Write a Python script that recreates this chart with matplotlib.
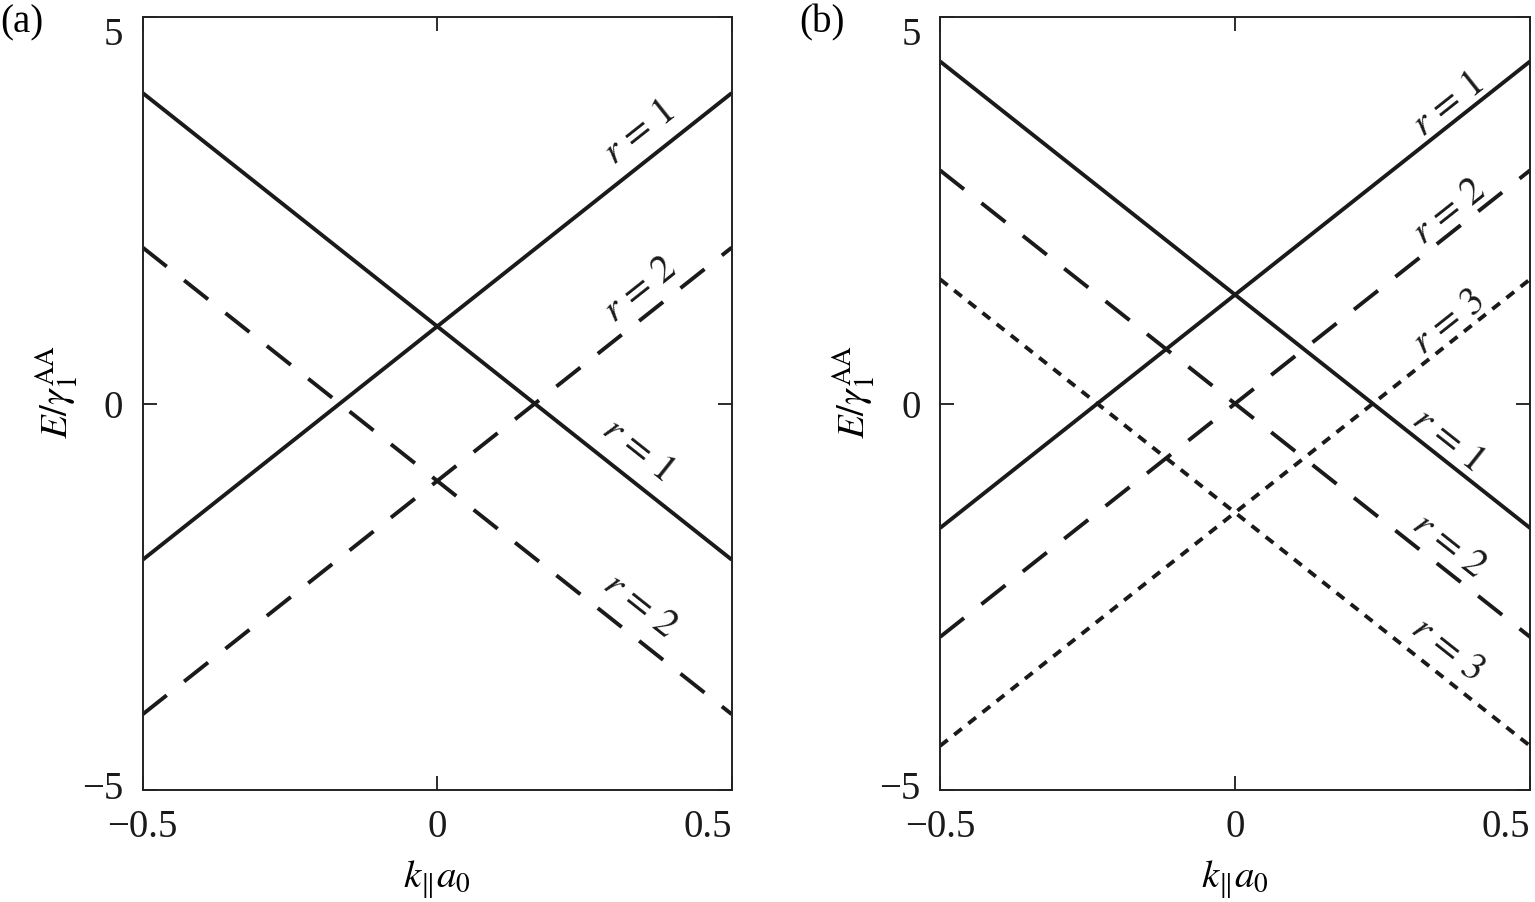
import numpy as np
import matplotlib
matplotlib.use("Agg")
import matplotlib.pyplot as plt

plt.rcParams['font.family'] = ['Liberation Serif', 'DejaVu Serif']
plt.rcParams['mathtext.fontset'] = 'stix'
plt.rcParams['lines.scale_dashes'] = False

# k range (end points of each straight band)
k = [-0.5, 0.5]

# panel (a): two layers, bands centred at +1 and -1
Ea_r1_up = [-2.02, 4.02]
Ea_r1_dn = [4.02, -2.02]
Ea_r2_up = [-4.02, 2.02]
Ea_r2_dn = [2.02, -4.02]

# panel (b): three layers, bands centred at +1.41, 0, -1.41
Eb_r1_up = [-1.61, 4.43]
Eb_r1_dn = [4.43, -1.61]
Eb_r2_up = [-3.02, 3.02]
Eb_r2_dn = [3.02, -3.02]
Eb_r3_up = [-4.43, 1.61]
Eb_r3_dn = [1.61, -4.43]

# band labels: (k, E, text, angle)
labels_a = [(0.343, 3.50, r'$r\,=\,1$', 38.4), (0.345, 1.47, r'$r\,=\,2$', 38.4),
            (0.340, -0.60, r'$r\,=\,1$', -38.4), (0.343, -2.61, r'$r\,=\,2$', -38.4)]
labels_b = [(0.361, 3.86, r'$r\,=\,1$', 38.4), (0.363, 2.48, r'$r\,=\,2$', 38.4),
            (0.361, 1.05, r'$r\,=\,3$', 38.4), (0.360, -0.47, r'$r\,=\,1$', -38.4),
            (0.362, -1.84, r'$r\,=\,2$', -38.4), (0.360, -3.17, r'$r\,=\,3$', -38.4)]

xticks = [-0.5, 0, 0.5]
xticklabels = ['\u22120.5', '0', '0.5']
yticks = [-5, 0, 5]
yticklabels = ['\u22125', '0', '5']

fs = 28
lw = 2.8
dash = (0, (22, 16))
dot = (0, (7, 6))
col = '#1a1a1a'

fig = plt.figure(figsize=(15.35, 9.02), dpi=100)
ax1 = fig.add_axes([0.093, 0.1242, 0.3837, 0.8566])
ax2 = fig.add_axes([0.6124, 0.1242, 0.3844, 0.8566])

ax1.plot(k, Ea_r1_up, color=col, lw=lw, solid_capstyle='butt')
ax1.plot(k, Ea_r1_dn, color=col, lw=lw, solid_capstyle='butt')
ax1.plot(k, Ea_r2_up, color=col, lw=lw, linestyle=dash, dash_capstyle='butt')
ax1.plot(k, Ea_r2_dn, color=col, lw=lw, linestyle=dash, dash_capstyle='butt')

ax2.plot(k, Eb_r1_up, color=col, lw=lw, solid_capstyle='butt')
ax2.plot(k, Eb_r1_dn, color=col, lw=lw, solid_capstyle='butt')
ax2.plot(k, Eb_r2_up, color=col, lw=lw, linestyle=dash, dash_capstyle='butt')
ax2.plot(k, Eb_r2_dn, color=col, lw=lw, linestyle=dash, dash_capstyle='butt')
ax2.plot(k, Eb_r3_up, color=col, lw=lw, linestyle=dot, dash_capstyle='butt')
ax2.plot(k, Eb_r3_dn, color=col, lw=lw, linestyle=dot, dash_capstyle='butt')

for ax, labs in [(ax1, labels_a), (ax2, labels_b)]:
    for x, y, t, ang in labs:
        ax.text(x, y, t, fontsize=fs, rotation=ang, rotation_mode='anchor',
                ha='center', va='center', color=col)

    ax.set_xlim(-0.5, 0.5)
    ax.set_ylim(-5, 5)
    ax.set_xticks(xticks)
    ax.set_xticklabels(xticklabels)
    ax.set_yticks(yticks)
    ax.set_yticklabels(yticklabels)
    ax.tick_params(direction='in', length=10, width=1.3, labelsize=fs,
                   top=True, right=True, pad=14, colors=col)
    for s in ax.spines.values():
        s.set_linewidth(1.4)
        s.set_color('#222222')

    xl = ax.get_xticklabels()
    xl[2].set_horizontalalignment('right')
    yl = ax.get_yticklabels()
    yl[0].set_verticalalignment('center')
    yl[2].set_verticalalignment('top')

    ax.set_xlabel(r'$k_{\Vert}a_0$', fontsize=fs, va='center')
    ax.xaxis.set_label_coords(0.5, -0.116)
    ax.set_ylabel(r'$E/\gamma_1^{\mathrm{AA}}$', fontsize=fs, va='center')
    ax.yaxis.set_label_coords(-0.147, 0.515)

fig.text(0.0, 0.975, '(a)', fontsize=fs, ha='left', va='center')
fig.text(0.521, 0.975, '(b)', fontsize=fs, ha='left', va='center')

fig.savefig('out.png', dpi=100)
